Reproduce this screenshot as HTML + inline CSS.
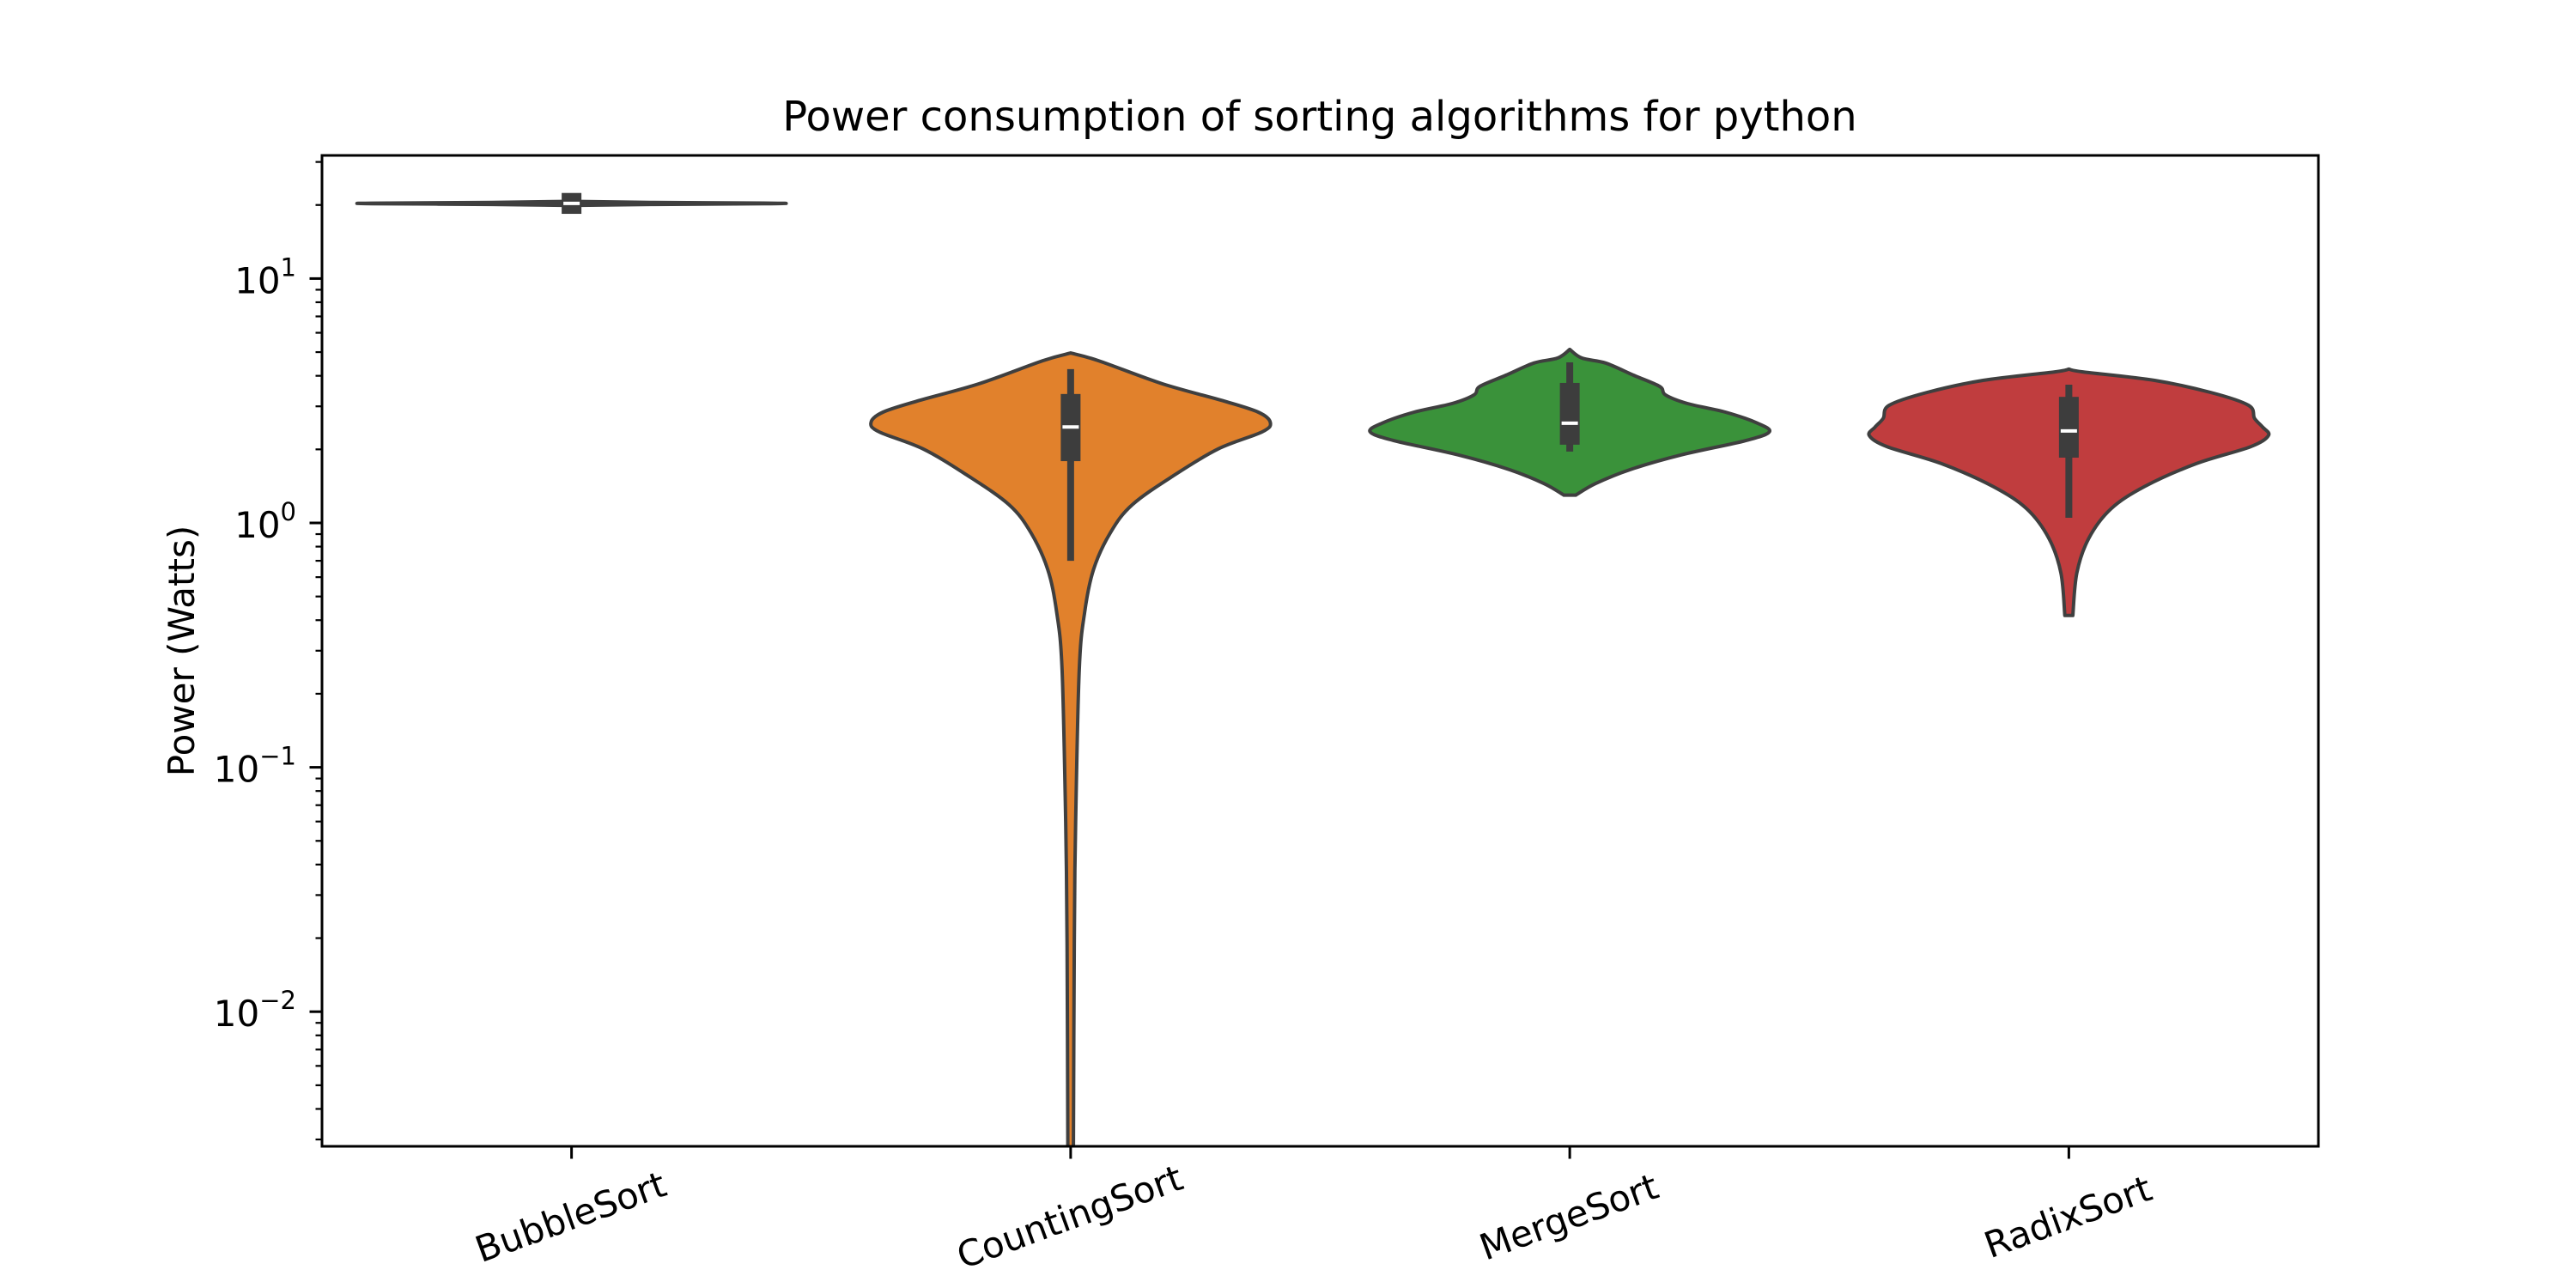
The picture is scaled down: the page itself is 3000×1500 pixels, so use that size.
<!DOCTYPE html>
<html><head><meta charset="utf-8"><style>
html,body{margin:0;padding:0;background:#fff;}
svg{display:block;font-family:"DejaVu Sans","Liberation Sans",sans-serif;}
</style></head><body>
<svg id="chart" width="3000" height="1500" viewBox="0 0 3000 1500" xmlns="http://www.w3.org/2000/svg">
<rect width="3000" height="1500" fill="#fff"/>
<text x="1537" y="152" font-size="48" text-anchor="middle" fill="#000">Power consumption of sorting algorithms for python</text>
<text transform="translate(226,758) rotate(-90)" font-size="42" text-anchor="middle" fill="#000">Power (Watts)</text>
<g id="plot"></g>
<rect x="375" y="181" width="2325" height="1154" fill="none" stroke="#000" stroke-width="3"/>
<g id="axes"></g>
</svg>
<script>
const categories = ["BubbleSort","CountingSort","MergeSort","RadixSort"];
const colors = ["#3f3f3f","#e1812c","#3a923a","#c03d3e"];
// violin profiles: values (Watts) and relative half-width
const bubbleVals = [20.7,20.5,20.35,20.25,20.1,19.9];
const bubbleW =    [0,0.4,1,1,0.4,0];
const countingVals = [4.96,4.61,3.71,3.15,2.84,2.58,2.36,2.01,1.57,1.19,0.915,0.646,0.431,0.251,0.0599,0.019,0.0028,0.0015];
const countingW =    [0,0.14,0.46,0.77,0.94,1.0,0.96,0.74,0.52,0.31,0.2,0.115,0.07,0.043,0.025,0.018,0.014,0.012];
const mergeVals = [5.13,4.73,4.51,4.02,3.62,3.34,3.08,2.84,2.56,2.36,2.17,1.90,1.65,1.45,1.30];
const mergeW =    [0,0.06,0.18,0.32,0.45,0.48,0.59,0.78,0.94,1.0,0.88,0.56,0.30,0.13,0.03];
const radixVals = [4.26,4.15,3.83,3.42,3.03,2.68,2.47,2.28,2.05,1.75,1.41,1.14,0.865,0.625,0.418];
const radixW =    [0,0.07,0.43,0.71,0.90,0.93,0.97,1.0,0.91,0.64,0.38,0.21,0.10,0.04,0.02];
// box stats: [whiskerLow, q1, median, q3, whiskerHigh]
const bubbleBox = [20.0,18.4,20.3,22.4,20.6];
const countingBox = [0.70,1.79,2.47,3.37,4.26];
const mergeBox = [1.96,2.09,2.56,3.74,4.54];
const radixBox = [1.05,1.85,2.38,3.28,3.68];
const yTickExps = [-2,-1,0,1];

const AX = {l:375,r:2700,t:181,b:1335};
const Y0 = 609, DEC = 284.6;
function yScale(v){ return Y0 - DEC*Math.log10(v); }
const band = (AX.r-AX.l)/categories.length;
function xScale(i){ return AX.l + band*(i+0.5); }
const MAXW = 0.4*band;
const NS = "http://www.w3.org/2000/svg";
function mk(tag, attrs, parent){ const e=document.createElementNS(NS,tag); for(const k in attrs) e.setAttribute(k,attrs[k]); parent.appendChild(e); return e; }

const plot = document.getElementById('plot');
const clip = mk('clipPath',{id:'pc'},mk('defs',{},plot));
mk('rect',{x:AX.l,y:AX.t,width:AX.r-AX.l,height:AX.b-AX.t},clip);
const g = mk('g',{'clip-path':'url(#pc)'},plot);

const profiles = [[bubbleVals,bubbleW],[countingVals,countingW],[mergeVals,mergeW],[radixVals,radixW]];
const boxes = [bubbleBox,countingBox,mergeBox,radixBox];

function smoothPath(pts){
  let d = "M"+pts[0][0]+","+pts[0][1];
  for(let i=0;i<pts.length-1;i++){
    const p0=pts[Math.max(0,i-1)],p1=pts[i],p2=pts[i+1],p3=pts[Math.min(pts.length-1,i+2)];
    const c1x=p1[0]+(p2[0]-p0[0])/6,c1y=p1[1]+(p2[1]-p0[1])/6;
    const c2x=p2[0]-(p3[0]-p1[0])/6,c2y=p2[1]-(p3[1]-p1[1])/6;
    d+=" C"+c1x.toFixed(1)+","+c1y.toFixed(1)+" "+c2x.toFixed(1)+","+c2y.toFixed(1)+" "+p2[0].toFixed(1)+","+p2[1].toFixed(1);
  }
  return d;
}

categories.forEach((c,i)=>{
  const cx = xScale(i);
  const [vals,ws] = profiles[i];
  const right = vals.map((v,k)=>[cx+ws[k]*MAXW, yScale(v)]);
  const left = vals.map((v,k)=>[cx-ws[k]*MAXW, yScale(v)]).reverse();
  const d = smoothPath(right)+" L"+left[0][0].toFixed(1)+","+left[0][1].toFixed(1)+smoothPath(left).replace(/^M[^ C]+/,"")+" Z";
  const p = mk('path',{d:d,fill:colors[i],stroke:'#3f3f3f','stroke-width':4,'stroke-linejoin':'round'},g);
  
  
  const b = boxes[i];
  const wh = mk('line',{x1:cx,x2:cx,y1:yScale(b[0]),y2:yScale(b[4]),stroke:'#3d3d3d','stroke-width':8},g);
  
  
  const bx = mk('rect',{x:cx-11.5,y:yScale(b[3]),width:23,height:yScale(b[1])-yScale(b[3]),fill:'#3d3d3d'},g);
  
  
  const md = mk('line',{x1:cx-9.5,x2:cx+9.5,y1:yScale(b[2]),y2:yScale(b[2]),stroke:'#fff','stroke-width':4},g);
  
  
});

const axes = document.getElementById('axes');
yTickExps.forEach(e=>{
  const y = yScale(Math.pow(10,e));
  const t = mk('line',{x1:AX.l-14.5,x2:AX.l,y1:y,y2:y,stroke:'#000','stroke-width':3},axes);
  
  
  const tx = mk('text',{x:AX.l-30,y:y+17,'font-size':42,'text-anchor':'end',fill:'#000'},axes);
  
  
  tx.appendChild(document.createTextNode('10'));
  const sup = mk('tspan',{'font-size':29,dy:-20},tx);
  sup.textContent = e<0 ? '\u2212'+(-e) : String(e);
});
for(let e=-3;e<=1;e++){
  for(let m=2;m<=9;m++){
    const y = yScale(m*Math.pow(10,e));
    if(y<AX.t||y>AX.b) continue;
    const t = mk('line',{x1:AX.l-7.5,x2:AX.l,y1:y,y2:y,stroke:'#000','stroke-width':2.2},axes);
    
    
  }
}
categories.forEach((c,i)=>{
  const x = xScale(i);
  const t = mk('line',{x1:x,x2:x,y1:AX.b,y2:AX.b+14.5,stroke:'#000','stroke-width':3},axes);
  
  
  const tx = mk('text',{transform:'translate('+x+',1420) rotate(-20)','font-size':42,'text-anchor':'middle','dominant-baseline':'middle',fill:'#000'},axes);
  
  
  tx.textContent = c;
});
</script>
</body></html>
